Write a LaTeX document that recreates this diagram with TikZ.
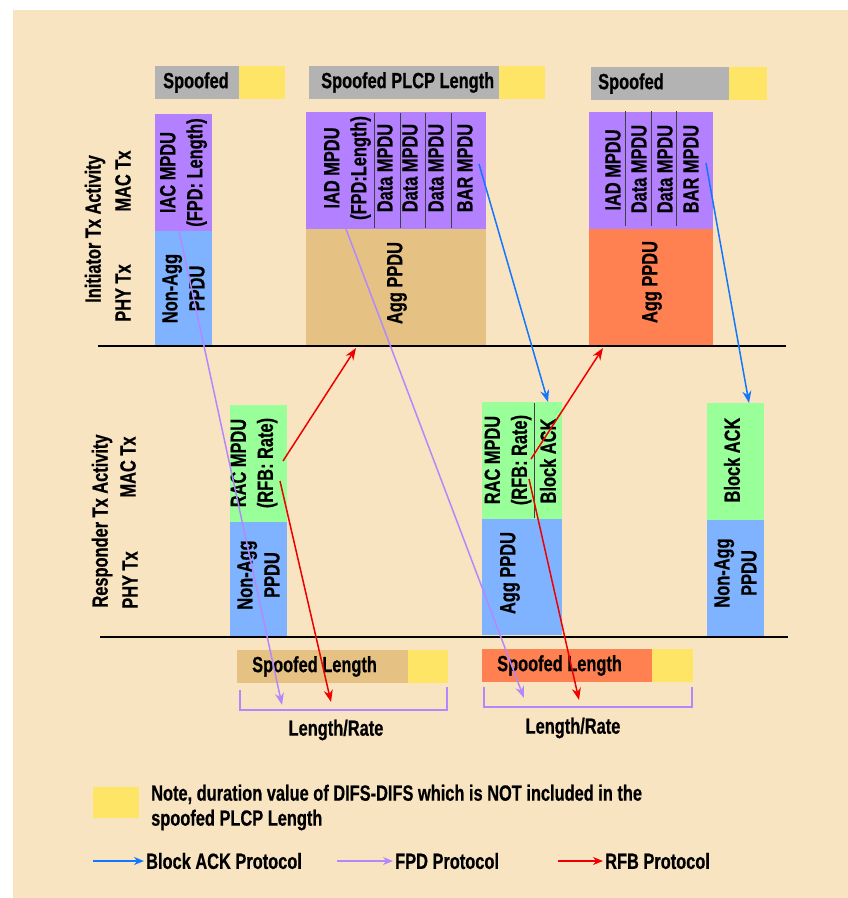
\documentclass[tikz,border=0pt]{standalone}
\usepackage{fontspec}
\setmainfont{Liberation Sans}[FakeStretch=0.745, FakeBold=0.6]
\usepackage{tikz}
\usetikzlibrary{arrows.meta, calc}
\definecolor{bgtan}{HTML}{F8E4C0}
\definecolor{spgrey}{HTML}{B3B3B3}
\definecolor{difsyel}{HTML}{FFE566}
\definecolor{mpdupur}{HTML}{B380FF}
\definecolor{ppdublue}{HTML}{80B3FF}
\definecolor{aggtan}{HTML}{E5C283}
\definecolor{aggorange}{HTML}{FF8050}
\definecolor{racgreen}{HTML}{99FF99}
\definecolor{ackblue}{HTML}{1177FF}
\definecolor{fpdlilac}{HTML}{B388FF}
\definecolor{rfbred}{HTML}{EE0000}

\begin{document}
\begin{tikzpicture}[x=1pt, y=-1pt, font=\fontsize{22}{27}\selectfont\bfseries,
    cell/.style 2 args={inner sep=0pt, outer sep=0pt, minimum width=#1pt, minimum height=#2pt},
    vlab/.style={rotate=90, align=center, inner sep=0pt},
    hlab/.style={anchor=west, inner sep=0pt},
    divider/.style={draw=black!75, line width=0.9pt},
    axis/.style={draw=black, line width=1.6pt},
    bracket/.style={draw=fpdlilac, line width=1.8pt},
    ack/.style={draw=ackblue, line width=1.5pt, -{Stealth[length=12pt, width=9pt]}},
    fpd/.style={draw=fpdlilac, line width=1.5pt, -{Stealth[length=12pt, width=9pt]}},
    rfb/.style={draw=rfbred, line width=1.5pt, -{Stealth[length=12pt, width=9pt]}},
    legarrow/.style={line width=1.5pt, -{Stealth[length=10pt, width=8pt]}}]
  \useasboundingbox (0,0) rectangle (848,898);
  \fill[white] (0,0) rectangle (848,898);
  \fill[bgtan] (13,10) rectangle (848,898);
  % spoofed bars on top
  \node[cell={84}{33}, fill=spgrey] (sp1g) at (197,82.5) {};
  \node[cell={46}{33}, fill=difsyel] (sp1y) at (262,82.5) {};
  \node[cell={190}{33}, fill=spgrey] (sp2g) at (404,82.5) {};
  \node[cell={46}{33}, fill=difsyel] (sp2y) at (522,82.5) {};
  \node[cell={138}{33}, fill=spgrey] (sp3g) at (660,83.5) {};
  \node[cell={38}{33}, fill=difsyel] (sp3y) at (748,83.5) {};
  \node[hlab] (sp1t) at (163,82.5) {Spoofed};
  \node[hlab] (sp2t) at (321,82.5) {Spoofed PLCP Length};
  \node[hlab] (sp3t) at (598,83.5) {Spoofed};
  % initiator
  \node[vlab] (initlab) at (95,229) {Initiator Tx Activity};
  \node[vlab] (imaclab) at (123,181) {MAC Tx};
  \node[vlab] (iphylab) at (123,293) {PHY Tx};
  \node[cell={57}{117}, fill=mpdupur] (iac) at (183.5,172.5) {};
  \node[cell={57}{115}, fill=ppdublue] (naa1) at (183.5,288.5) {};
  \node[vlab] (iact) at (iac) {IAC MPDU\\(FPD: Length)};
  \node[vlab] (naa1t) at (naa1) {Non-Agg\\PPDU};
  \node[cell={68}{117}, fill=mpdupur] (iad2) at (340,170.5) {};
  \node[cell={26}{117}, fill=mpdupur] (d21) at (387,170.5) {};
  \node[cell={25}{117}, fill=mpdupur] (d22) at (412.5,170.5) {};
  \node[cell={26}{117}, fill=mpdupur] (d23) at (438,170.5) {};
  \node[cell={35}{117}, fill=mpdupur] (bar2) at (468.5,170.5) {};
  \node[cell={180}{116}, fill=aggtan] (agg1) at (396,287) {};
  \foreach \c in {iad2,d21,d22,d23}
    \draw[divider] ($(\c.north east)+(0,1)$) -- ($(\c.south east)+(0,-1)$);
  \node[vlab] (iad2t) at (347.5,168) {IAD MPDU\\(FPD:Length)};
  \node[vlab] (d21t) at (385,168) {Data MPDU};
  \node[vlab] (d22t) at (410,168) {Data MPDU};
  \node[vlab] (d23t) at (436,168) {Data MPDU};
  \node[vlab] (bar2t) at (465,168) {BAR MPDU};
  \node[vlab] (agg1t) at (397,283) {Agg PPDU};
  \node[cell={36}{117}, fill=mpdupur] (iad3) at (607,170.5) {};
  \node[cell={26}{117}, fill=mpdupur] (d31) at (638,170.5) {};
  \node[cell={25}{117}, fill=mpdupur] (d32) at (663.5,170.5) {};
  \node[cell={37}{117}, fill=mpdupur] (bar3) at (694.5,170.5) {};
  \node[cell={124}{116}, fill=aggorange] (agg2) at (651,287) {};
  \foreach \c in {iad3,d31,d32}
    \draw[divider] ($(\c.north east)+(0,-1)$) -- ($(\c.south east)+(0,-3)$);
  \node[vlab] (iad3t) at (613,170) {IAD MPDU};
  \node[vlab] (d31t) at (639,169) {Data MPDU};
  \node[vlab] (d32t) at (665,169) {Data MPDU};
  \node[vlab] (bar3t) at (691,169) {BAR MPDU};
  \node[vlab] (agg2t) at (652,282) {Agg PPDU};
  \draw[axis] (98,346) -- (786,346);
  % responder
  \node[vlab] (resplab) at (102,521) {Responder Tx Activity};
  \node[vlab] (rmaclab) at (128,467) {MAC Tx};
  \node[vlab] (rphylab) at (130,580) {PHY Tx};
  \node[cell={57}{117}, fill=racgreen] (rac1) at (258.5,463.5) {};
  \node[cell={57}{114}, fill=ppdublue] (naa2) at (258.5,579) {};
  \node[vlab] (rac1t) at (254,463) {RAC MPDU\\(RFB: Rate)};
  \node[vlab] (naa2t) at (258.5,575) {Non-Agg\\PPDU};
  \node[cell={52}{117}, fill=racgreen] (rac2) at (508,460.5) {};
  \node[cell={28}{117}, fill=racgreen] (back1) at (548,460.5) {};
  \node[cell={80}{116}, fill=ppdublue] (agg3) at (522,577) {};
  \draw[divider] ($(rac2.north east)+(0,1)$) -- ($(rac2.south east)+(0,-1)$);
  \node[vlab] (rac2t) at (508,460) {RAC MPDU\\(RFB: Rate)};
  \node[vlab] (back1t) at (548,461) {Block ACK};
  \node[vlab] (agg3t) at (510,573) {Agg PPDU};
  \node[cell={57}{117}, fill=racgreen] (back2) at (735.5,461.5) {};
  \node[cell={57}{116}, fill=ppdublue] (naa3) at (735.5,578) {};
  \node[vlab] (back2t) at (732,460) {Block ACK};
  \node[vlab] (naa3t) at (735.5,573) {Non-Agg\\PPDU};
  \draw[axis] (100,637) -- (788,637);
  % spoofed length bars
  \node[cell={171}{33}, fill=aggtan] (sl1) at (322.5,666.5) {};
  \node[cell={40}{33}, fill=difsyel] (sl1y) at (428,666.5) {};
  \node[cell={170}{33}, fill=aggorange] (sl2) at (567,665.5) {};
  \node[cell={41}{33}, fill=difsyel] (sl2y) at (672.5,665.5) {};
  \node[hlab] (sl1t) at (252,666.5) {Spoofed Length};
  \node[hlab] (sl2t) at (497,665.5) {Spoofed Length};
  \draw[bracket] (240,690) -- (240,710) -- (447,710) -- (447,687);
  \draw[bracket] (484,687) -- (484,707) -- (692,707) -- (692,687);
  \node (lr1) at (336,730) {Length/Rate};
  \node (lr2) at (573,728) {Length/Rate};
  % protocol arrows
  \coordinate (fpd1s) at (179,231);  \coordinate (fpd1e) at (282,705);
  \coordinate (fpd2s) at (346,229);  \coordinate (fpd2e) at (524,698);
  \coordinate (ack1s) at (479,164);
  \coordinate (ack2s) at (706,163);
  \coordinate (rfb1s) at (283,461);  \coordinate (rfb2s) at (280,481);
  \coordinate (rfb3s) at (531,459);  \coordinate (rfb4s) at (529,479);
  \coordinate (rfb2e) at (331,702);  \coordinate (rfb4e) at (579,700);
  \draw[fpd] (fpd1s) -- (fpd1e);
  \draw[fpd] (fpd2s) -- (fpd2e);
  \draw[ack] (ack1s) -- (back1.north);
  \draw[ack] (ack2s) -- ($(back2.north)+(13.5,0)$);
  \draw[rfb] (rfb1s) -- ($(agg1.south west)+(50,3)$);
  \draw[rfb] (rfb2s) -- (rfb2e);
  \draw[rfb] (rfb3s) -- ($(agg2.south west)+(14,3)$);
  \draw[rfb] (rfb4s) -- (rfb4e);
  % legend
  \node[cell={46}{31}, fill=difsyel] (legy) at (116,802.5) {};
  \node[hlab, align=left, font=\fontsize{22}{25}\selectfont\bfseries] (note) at (151,807.5)
    {Note, duration value of DIFS-DIFS which is NOT included in the\\spoofed PLCP Length};
  \coordinate (lgack) at (93,861);
  \coordinate (lgfpd) at (337,861);
  \coordinate (lgrfb) at (558,861);
  \node[anchor=west, inner sep=2pt] (lgackt) at (144,861) {Block ACK Protocol};
  \node[anchor=west, inner sep=2pt] (lgfpdt) at (393,861) {FPD Protocol};
  \node[anchor=west, inner sep=2pt] (lgrfbt) at (603,861) {RFB Protocol};
  \draw[legarrow, draw=ackblue] (lgack) -- (lgackt.west);
  \draw[legarrow, draw=fpdlilac] (lgfpd) -- (lgfpdt.west);
  \draw[legarrow, draw=rfbred] (lgrfb) -- (lgrfbt.west);
\end{tikzpicture}
\end{document}
